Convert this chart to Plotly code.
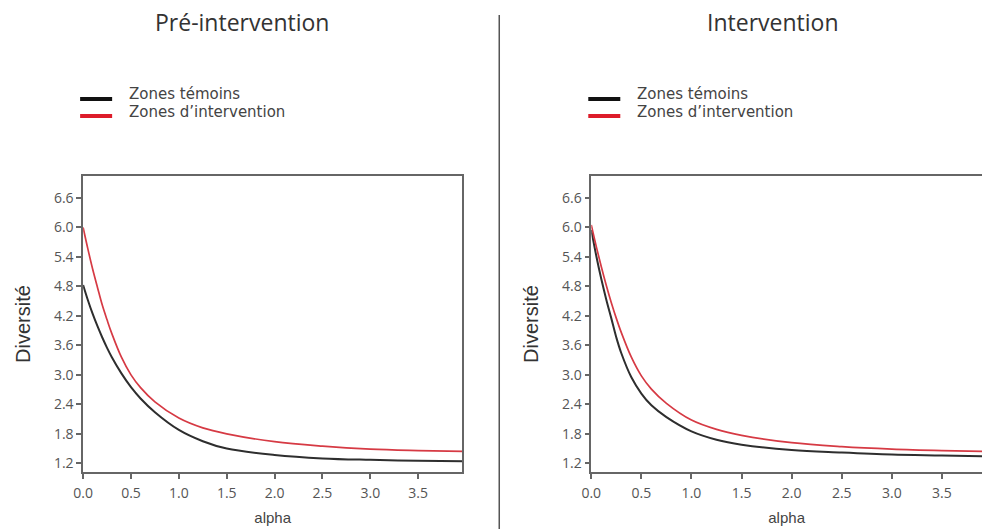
import plotly.graph_objects as go

# ---- data ----
alpha = [0, 0.05, 0.1, 0.15, 0.2, 0.25, 0.3, 0.4, 0.5, 0.6, 0.75, 1.0, 1.25, 1.5, 2.0, 2.5, 3.0, 3.5, 4.0]

pre_temoins = [4.83, 4.52, 4.24, 3.99, 3.76, 3.55, 3.36, 3.03, 2.75, 2.52, 2.24, 1.88, 1.65, 1.50, 1.37, 1.30, 1.27, 1.25, 1.24]
pre_interv = [6.00, 5.56, 5.15, 4.78, 4.42, 4.12, 3.84, 3.36, 3.00, 2.74, 2.45, 2.12, 1.92, 1.80, 1.64, 1.55, 1.49, 1.46, 1.44]
int_temoins = [5.95, 5.42, 4.95, 4.53, 4.15, 3.76, 3.44, 2.95, 2.62, 2.38, 2.14, 1.85, 1.68, 1.58, 1.47, 1.42, 1.38, 1.36, 1.34]
int_interv = [6.05, 5.61, 5.20, 4.82, 4.47, 4.15, 3.86, 3.36, 2.98, 2.71, 2.42, 2.08, 1.89, 1.77, 1.62, 1.54, 1.49, 1.46, 1.44]

series_names = ["Zones témoins", "Zones d’intervention"]
panel_titles = ["Pré-intervention", "Intervention"]
x_ticks = [0.0, 0.5, 1.0, 1.5, 2.0, 2.5, 3.0, 3.5]
y_ticks = [1.2, 1.8, 2.4, 3.0, 3.6, 4.2, 4.8, 5.4, 6.0, 6.6]

# ---- styles ----
BLACK = "#2e2e2e"
RED = "#d63a44"
LEG_BLACK = "#111111"
LEG_RED = "#dd1c2a"
AXIS = "#666666"
TICKF = dict(family="Open Sans, Arial", size=14, color="#555")

W, H = 982, 529
def px(x):
    # page pixel -> paper fraction (calibrated to the rendered page)
    return ((x - 9.9) / 0.9895) / W
def py(y):
    return 1 - y / H

fig = go.Figure()
panels = [(pre_temoins, pre_interv, "x", "y"), (int_temoins, int_interv, "x2", "y2")]
for ys_b, ys_r, xa, ya in panels:
    fig.add_trace(go.Scatter(x=alpha, y=ys_b, mode="lines", name=series_names[0], showlegend=False,
                             line=dict(color=BLACK, width=2, shape="spline", smoothing=1.0),
                             xaxis=xa, yaxis=ya))
    fig.add_trace(go.Scatter(x=alpha, y=ys_r, mode="lines", name=series_names[1], showlegend=False,
                             line=dict(color=RED, width=1.7, shape="spline", smoothing=1.0),
                             xaxis=xa, yaxis=ya))

common_x = dict(tickmode="array", tickvals=x_ticks, ticktext=[f"{v:.1f}" for v in x_ticks],
                ticks="outside", ticklen=5, tickcolor=AXIS, tickwidth=1.5, ticklabelstandoff=2,
                showline=True, linecolor=AXIS, linewidth=1.5, showgrid=False, zeroline=False,
                tickfont=TICKF,
                title=dict(text="alpha", font=dict(family="Arial", size=15, color="#444"), standoff=12))
common_y = dict(tickmode="array", tickvals=y_ticks, ticktext=[f"{v:.1f}" for v in y_ticks],
                ticks="outside", ticklen=5, tickcolor=AXIS, tickwidth=1.5,
                showline=True, linecolor=AXIS, linewidth=1.5, showgrid=False, zeroline=False,
                tickfont=TICKF, range=[1.023, 7.048],
                title=dict(text="Diversité", font=dict(family="Arial", size=20, color="#333"), standoff=18))

# legend drawn as line samples + labels for each panel
shapes = [dict(type="line", xref="paper", yref="paper", x0=px(499), x1=px(499),
               y0=py(15), y1=0, line=dict(color="#555", width=1.5))]
annotations = []
for i, x0 in enumerate([80, 588]):
    for name, col, yl, yt in [(series_names[0], LEG_BLACK, 99, 94), (series_names[1], LEG_RED, 116, 112)]:
        shapes.append(dict(type="line", xref="paper", yref="paper", x0=px(x0), x1=px(x0 + 32),
                           y0=py(yl), y1=py(yl), line=dict(color=col, width=4)))
        annotations.append(dict(text=name, x=px(x0 + 47), y=py(yt), xref="paper", yref="paper",
                                xanchor="left", yanchor="middle", showarrow=False,
                                font=dict(family="DejaVu Sans", size=15, color="#444")))
for title, cx in zip(panel_titles, [242, 773]):
    annotations.append(dict(text=title, x=px(cx), y=py(22), xref="paper", yref="paper",
                            xanchor="center", yanchor="middle", showarrow=False,
                            font=dict(family="Open Sans", size=23, color="#333")))

fig.update_layout(
    width=W, height=H, margin=dict(l=0, r=0, t=0, b=0),
    paper_bgcolor="white", plot_bgcolor="white", showlegend=False,
    xaxis=dict(common_x, domain=[px(83), px(462)], range=[0, 3.96], mirror=True, anchor="y"),
    yaxis=dict(common_y, domain=[py(472), py(176)], mirror=True, anchor="x"),
    xaxis2=dict(common_x, domain=[px(591), 1.0], range=[0, 3.9], mirror=True, anchor="y2"),
    yaxis2=dict(common_y, domain=[py(472), py(176)], mirror=False, anchor="x2"),
    annotations=annotations,
    shapes=shapes,
)

fig.write_html("out.html", config={"displayModeBar": False},
               post_script="document.body.style.margin='0';")
